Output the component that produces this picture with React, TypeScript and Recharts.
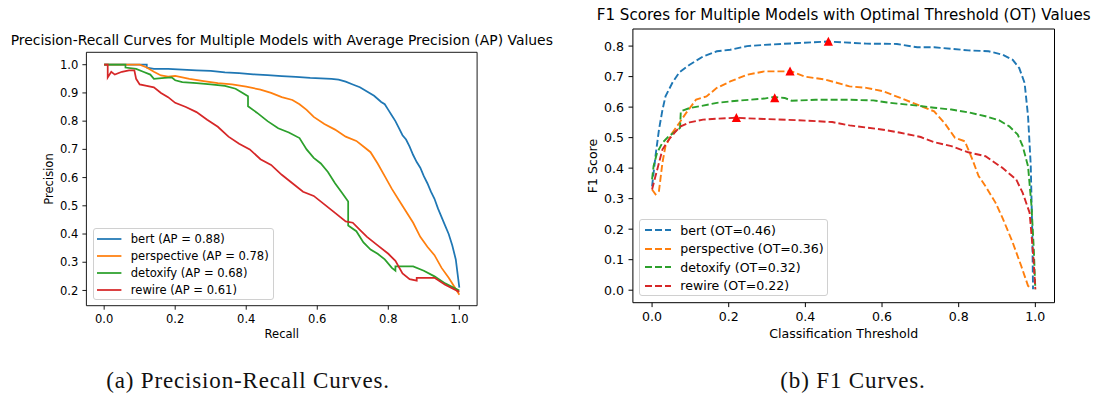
import React from 'react';
import { ComposedChart, Line, Scatter, XAxis, YAxis, Legend, CartesianGrid } from 'recharts';

// ---------- shared ----------
const models = ['bert', 'perspective', 'detoxify', 'rewire'];
const colors = ['#1f77b4', '#ff7f0e', '#2ca02c', '#d62728'];
const apValues = [0.88, 0.78, 0.68, 0.61];
const otValues = [0.46, 0.36, 0.32, 0.22];
const otF1 = [0.815, 0.717, 0.63, 0.565];
const xTicks = [0, 0.2, 0.4, 0.6, 0.8, 1.0];
const prYTicks = [0.2, 0.3, 0.4, 0.5, 0.6, 0.7, 0.8, 0.9, 1.0];
const f1YTicks = [0, 0.1, 0.2, 0.3, 0.4, 0.5, 0.6, 0.7, 0.8];

// ---------- Precision-Recall ----------
const bertRecall = [0, 0.12, 0.12, 0.14, 0.18, 0.22, 0.26, 0.30, 0.34, 0.38, 0.42, 0.46, 0.50, 0.54, 0.58, 0.61, 0.64, 0.66, 0.68, 0.70, 0.72, 0.74, 0.76, 0.78, 0.79, 0.80, 0.81, 0.82, 0.83, 0.84, 0.85, 0.86, 0.87, 0.88, 0.89, 0.90, 0.91, 0.92, 0.93, 0.94, 0.95, 0.96, 0.97, 0.98, 0.99, 0.995, 1.0];
const bertPrecision = [1.0, 1.0, 0.99, 0.985, 0.985, 0.983, 0.98, 0.978, 0.973, 0.97, 0.966, 0.963, 0.96, 0.957, 0.953, 0.952, 0.95, 0.947, 0.94, 0.93, 0.92, 0.905, 0.89, 0.868, 0.86, 0.84, 0.82, 0.80, 0.775, 0.75, 0.735, 0.71, 0.68, 0.655, 0.635, 0.605, 0.58, 0.55, 0.525, 0.49, 0.46, 0.43, 0.40, 0.36, 0.31, 0.26, 0.21];

const perspRecall = [0, 0.10, 0.12, 0.14, 0.16, 0.18, 0.20, 0.24, 0.28, 0.32, 0.36, 0.40, 0.44, 0.47, 0.50, 0.53, 0.55, 0.57, 0.59, 0.62, 0.65, 0.68, 0.71, 0.73, 0.75, 0.77, 0.79, 0.81, 0.83, 0.85, 0.87, 0.89, 0.91, 0.93, 0.95, 0.97, 0.99, 1.0];
const perspPrecision = [1.0, 1.0, 0.99, 0.975, 0.962, 0.958, 0.96, 0.95, 0.942, 0.935, 0.93, 0.922, 0.912, 0.9, 0.885, 0.875, 0.86, 0.84, 0.815, 0.79, 0.77, 0.745, 0.73, 0.71, 0.69, 0.65, 0.605, 0.56, 0.52, 0.48, 0.44, 0.39, 0.355, 0.325, 0.28, 0.245, 0.205, 0.185];

const detoxRecall = [0, 0.06, 0.06, 0.09, 0.11, 0.13, 0.14, 0.17, 0.19, 0.20, 0.22, 0.26, 0.30, 0.34, 0.37, 0.39, 0.405, 0.405, 0.43, 0.46, 0.49, 0.52, 0.55, 0.57, 0.59, 0.61, 0.63, 0.65, 0.67, 0.687, 0.687, 0.71, 0.73, 0.75, 0.77, 0.79, 0.81, 0.82, 0.82, 0.87, 0.90, 0.93, 0.96, 1.0];
const detoxPrecision = [1.0, 1.0, 0.99, 0.985, 0.975, 0.965, 0.95, 0.953, 0.955, 0.945, 0.938, 0.935, 0.93, 0.925, 0.915, 0.90, 0.888, 0.853, 0.83, 0.80, 0.775, 0.76, 0.74, 0.70, 0.67, 0.65, 0.62, 0.58, 0.545, 0.515, 0.43, 0.41, 0.37, 0.345, 0.33, 0.31, 0.28, 0.27, 0.285, 0.285, 0.27, 0.25, 0.225, 0.20];

const rewireRecall = [0, 0.01, 0.01, 0.02, 0.03, 0.05, 0.07, 0.085, 0.09, 0.10, 0.12, 0.14, 0.16, 0.18, 0.20, 0.23, 0.26, 0.29, 0.32, 0.35, 0.38, 0.41, 0.44, 0.47, 0.50, 0.53, 0.56, 0.59, 0.62, 0.65, 0.68, 0.70, 0.72, 0.74, 0.77, 0.80, 0.82, 0.84, 0.86, 0.88, 0.88, 0.93, 0.96, 1.0];
const rewirePrecision = [1.0, 1.0, 0.955, 0.975, 0.965, 0.975, 0.98, 0.98, 0.95, 0.93, 0.925, 0.92, 0.90, 0.885, 0.865, 0.85, 0.832, 0.805, 0.78, 0.745, 0.72, 0.70, 0.665, 0.645, 0.61, 0.58, 0.55, 0.535, 0.505, 0.475, 0.445, 0.44, 0.415, 0.39, 0.36, 0.33, 0.305, 0.26, 0.24, 0.235, 0.245, 0.245, 0.22, 0.195];

// ---------- F1 ----------
const bertThr = [0, 0.009, 0.018, 0.027, 0.035, 0.053, 0.071, 0.098, 0.133, 0.169, 0.204, 0.248, 0.293, 0.382, 0.458, 0.559, 0.639, 0.692, 0.736, 0.825, 0.878, 0.914, 0.941, 0.958, 0.972, 0.981, 0.988, 0.992, 0.994];
const bertF1 = [0.34, 0.44, 0.526, 0.59, 0.635, 0.68, 0.714, 0.739, 0.766, 0.783, 0.788, 0.80, 0.804, 0.81, 0.815, 0.808, 0.807, 0.796, 0.796, 0.786, 0.783, 0.772, 0.755, 0.728, 0.679, 0.57, 0.41, 0.19, 0.003];

const perspThr = [0, 0.009, 0.018, 0.027, 0.035, 0.053, 0.071, 0.089, 0.115, 0.142, 0.169, 0.204, 0.248, 0.293, 0.337, 0.364, 0.399, 0.453, 0.515, 0.559, 0.603, 0.648, 0.692, 0.736, 0.763, 0.79, 0.816, 0.834, 0.852, 0.87, 0.896, 0.914, 0.941, 0.963, 0.981, 0.99];
const perspF1 = [0.33, 0.314, 0.325, 0.417, 0.472, 0.516, 0.548, 0.581, 0.625, 0.635, 0.663, 0.684, 0.706, 0.717, 0.717, 0.717, 0.70, 0.69, 0.668, 0.663, 0.652, 0.63, 0.608, 0.586, 0.548, 0.50, 0.488, 0.434, 0.374, 0.341, 0.287, 0.238, 0.156, 0.08, 0.014, 0.005];

const detoxThr = [0, 0.004, 0.013, 0.027, 0.044, 0.062, 0.073, 0.075, 0.098, 0.133, 0.169, 0.222, 0.293, 0.317, 0.346, 0.364, 0.426, 0.515, 0.577, 0.621, 0.692, 0.736, 0.781, 0.825, 0.87, 0.905, 0.932, 0.954, 0.967, 0.981, 0.99, 0.996, 1.0];
const detoxF1 = [0.363, 0.407, 0.45, 0.483, 0.505, 0.521, 0.532, 0.586, 0.597, 0.605, 0.614, 0.621, 0.628, 0.633, 0.63, 0.621, 0.624, 0.624, 0.622, 0.614, 0.605, 0.598, 0.592, 0.583, 0.57, 0.557, 0.537, 0.51, 0.472, 0.406, 0.276, 0.134, 0.003];

const rewireThr = [0, 0.009, 0.018, 0.027, 0.044, 0.062, 0.075, 0.098, 0.133, 0.169, 0.219, 0.293, 0.382, 0.47, 0.515, 0.603, 0.648, 0.701, 0.736, 0.781, 0.825, 0.87, 0.914, 0.95, 0.967, 0.985, 0.994, 1.0];
const rewireF1 = [0.33, 0.374, 0.417, 0.461, 0.494, 0.521, 0.537, 0.55, 0.559, 0.562, 0.565, 0.561, 0.557, 0.551, 0.54, 0.526, 0.516, 0.502, 0.485, 0.472, 0.452, 0.439, 0.401, 0.363, 0.319, 0.254, 0.123, 0.003];

const zip = (xs: number[], ys: number[]) => xs.map((x, i) => ({ x, y: ys[i] }));
const prSeries = [zip(bertRecall, bertPrecision), zip(perspRecall, perspPrecision), zip(detoxRecall, detoxPrecision), zip(rewireRecall, rewirePrecision)];
const f1Series = [zip(bertThr, bertF1), zip(perspThr, perspF1), zip(detoxThr, detoxF1), zip(rewireThr, rewireF1)];
const peakPoints = otValues.map((x, i) => ({ x, y: otF1[i] }));

const FONT = '"DejaVu Sans", sans-serif';
const X_DOMAIN: [number, number] = [-0.05, 1.05];
const PR_Y_DOMAIN: [number, number] = [0.146, 1.044];
const F1_Y_DOMAIN: [number, number] = [-0.041, 0.856];

function Txt({ x, y, size, children, rotate, family, color, spacing }: any) {
  return (
    <div
      style={{
        position: 'absolute', left: x, top: y, fontSize: size, fontFamily: family || FONT,
        color: color || '#000', whiteSpace: 'nowrap', lineHeight: 1, letterSpacing: spacing || 0,
        transform: `translate(-50%, -50%)${rotate ? ` rotate(${rotate}deg)` : ''}`,
      }}
    >
      {children}
    </div>
  );
}

function BoxLegend({ labels, fontSize, rowH, handleW, padL, gap, dashed, lineW, width, height, padT }: any) {
  return (
    <div
      style={{
        width, height, boxSizing: 'border-box', border: '1px solid #d0d0d0', borderRadius: 3,
        background: 'rgba(255,255,255,0.85)', paddingTop: padT, fontFamily: FONT, fontSize,
      }}
    >
      {labels.map((lab: string, i: number) => (
        <div key={lab} style={{ display: 'flex', alignItems: 'center', height: rowH, paddingLeft: padL, whiteSpace: 'nowrap', color: '#000' }}>
          <svg width={handleW} height={6} style={{ marginRight: gap, flex: 'none' }}>
            <line x1={0} y1={3} x2={handleW} y2={3} stroke={colors[i]} strokeWidth={lineW} strokeDasharray={dashed ? '7 3' : undefined} />
          </svg>
          <span>{lab}</span>
        </div>
      ))}
    </div>
  );
}

const triangle = (p: any) => {
  const { cx, cy } = p;
  return <polygon points={`${cx},${cy - 4.8} ${cx - 4.6},${cy + 4.2} ${cx + 4.6},${cy + 4.2}`} fill="#ff0000" />;
};

export default function App() {
  const prLabels = models.map((m, i) => `${m} (AP = ${apValues[i].toFixed(2)})`);
  const f1Labels = models.map((m, i) => `${m} (OT=${otValues[i].toFixed(2)})`);
  const fmt = (v: number) => v.toFixed(1);
  const lTick = { fill: '#000', fontSize: 11.55, fontFamily: FONT };
  const rTick = { fill: '#000', fontSize: 12.57, fontFamily: FONT };
  const lAxis = { stroke: '#000', strokeWidth: 0.9 };
  const rAxis = { stroke: '#000', strokeWidth: 1 };

  return (
    <div style={{ position: 'absolute', left: 0, top: 0, width: 1094, height: 394, background: '#fff', overflow: 'hidden' }}>
      {/* Left chart */}
      <div style={{ position: 'absolute', left: 0, top: 0 }}>
        <ComposedChart width={560} height={350} margin={{ top: 52.3, right: 82.9, left: 26.4, bottom: 14.3 }}>
          <CartesianGrid horizontalValues={[PR_Y_DOMAIN[1]]} verticalValues={[X_DOMAIN[1]]} stroke="#000" strokeWidth={0.9} strokeDasharray="" />
          <XAxis dataKey="x" type="number" domain={X_DOMAIN} allowDataOverflow ticks={xTicks} tickFormatter={fmt}
            height={30} tick={lTick} tickLine={lAxis} axisLine={lAxis} tickSize={4} tickMargin={5} />
          <YAxis type="number" domain={PR_Y_DOMAIN} allowDataOverflow ticks={prYTicks} tickFormatter={fmt}
            width={60} tick={lTick} tickLine={lAxis} axisLine={lAxis} tickSize={4} tickMargin={4} />
          {prSeries.map((d, i) => (
            <Line key={models[i]} data={d} dataKey="y" type="linear" stroke={colors[i]} strokeWidth={1.75} dot={false} isAnimationActive={false} name={prLabels[i]} />
          ))}
          <Legend layout="vertical" align="center" verticalAlign="middle"
            wrapperStyle={{ left: 92.9, top: 228.3, width: 181, height: 72 }}
            content={() => <BoxLegend labels={prLabels} fontSize={11.55} rowH={17} handleW={24.4} padL={3.5} gap={9} lineW={1.75} width={181} height={72} padT={1.5} />} />
        </ComposedChart>
      </div>
      <Txt x={281.8} y={40.7} size={13.9}>Precision-Recall Curves for Multiple Models with Average Precision (AP) Values</Txt>
      <Txt x={49.5} y={179} size={11.55} rotate={-90}>Precision</Txt>
      <Txt x={281.8} y={335} size={11.55}>Recall</Txt>

      {/* Right chart */}
      <div style={{ position: 'absolute', left: 560, top: 0 }}>
        <ComposedChart width={534} height={350} margin={{ top: 29, right: 39.5, left: 22.9, bottom: 17.3 }}>
          <CartesianGrid horizontalValues={[F1_Y_DOMAIN[1]]} verticalValues={[X_DOMAIN[1]]} stroke="#000" strokeWidth={1} strokeDasharray="" />
          <XAxis dataKey="x" type="number" domain={X_DOMAIN} allowDataOverflow ticks={xTicks} tickFormatter={fmt}
            height={30} tick={rTick} tickLine={rAxis} axisLine={rAxis} tickSize={4.4} tickMargin={5.4} />
          <YAxis type="number" domain={F1_Y_DOMAIN} allowDataOverflow ticks={f1YTicks} tickFormatter={fmt}
            width={50} tick={rTick} tickLine={rAxis} axisLine={rAxis} tickSize={4.4} tickMargin={4.4} />
          {f1Series.map((d, i) => (
            <Line key={models[i]} data={d} dataKey="y" type="linear" stroke={colors[i]} strokeWidth={1.9} strokeDasharray="7 3" dot={false} isAnimationActive={false} name={f1Labels[i]} />
          ))}
          <Scatter data={peakPoints} dataKey="y" shape={triangle} isAnimationActive={false} legendType="none" />
          <Legend layout="vertical" align="center" verticalAlign="middle"
            wrapperStyle={{ left: 79.4, top: 219, width: 189, height: 77 }}
            content={() => <BoxLegend labels={f1Labels} fontSize={12.57} rowH={18.5} handleW={26.2} padL={4.5} gap={9.2} lineW={1.9} dashed width={189} height={77} padT={1} />} />
        </ComposedChart>
      </div>
      <Txt x={843.7} y={15.7} size={15.1}>F1 Scores for Multiple Models with Optimal Threshold (OT) Values</Txt>
      <Txt x={593} y={166} size={12.57} rotate={-90}>F1 Score</Txt>
      <Txt x={843.7} y={334.3} size={12.57}>Classification Threshold</Txt>

      {/* Captions */}
      <Txt x={248} y={379.5} size={23} family='"Liberation Serif", serif' color="#111" spacing="0.85px">(a) Precision-Recall Curves.</Txt>
      <Txt x={853} y={379.5} size={23} family='"Liberation Serif", serif' color="#111" spacing="0.85px">(b) F1 Curves.</Txt>
    </div>
  );
}
